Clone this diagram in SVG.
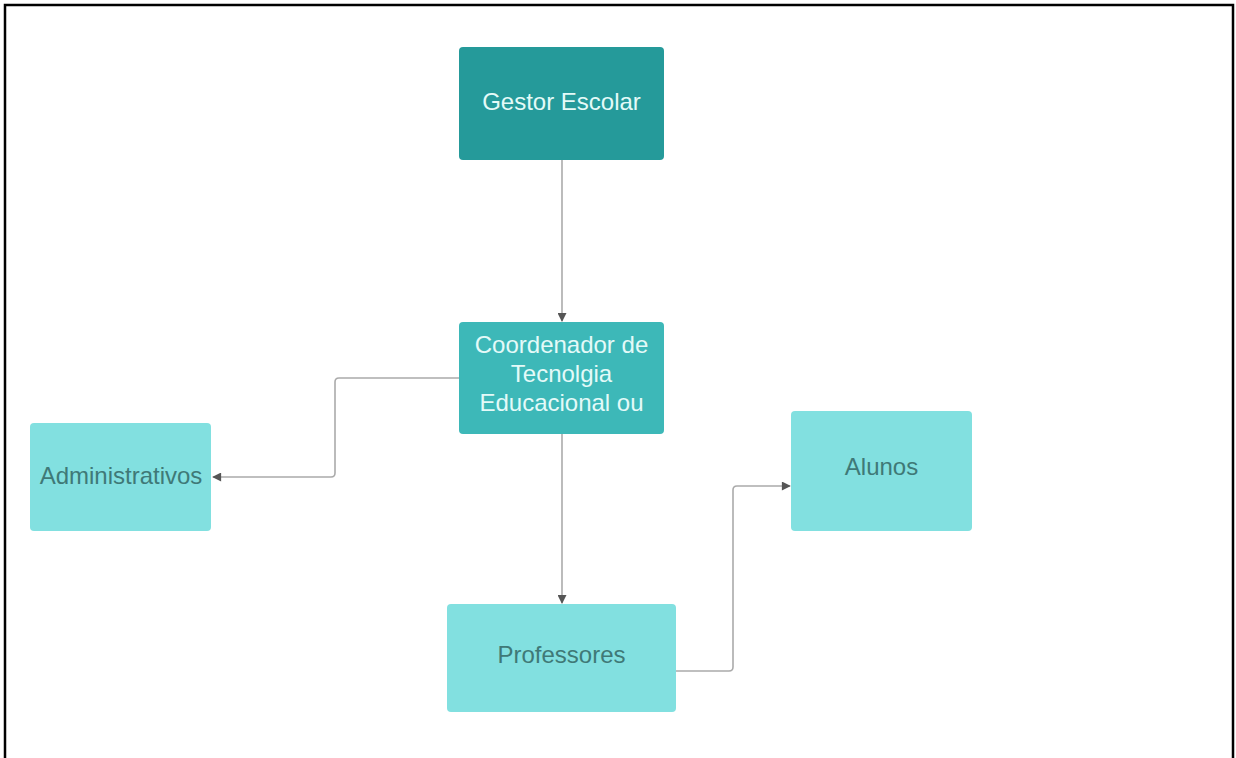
<svg xmlns="http://www.w3.org/2000/svg" width="1236" height="758" viewBox="0 0 1236 758">
<style>
  .frame{fill:none;stroke:#000;stroke-width:2.5}
  .box{stroke:none}
  .dark{fill:#259a9a}
  .mid{fill:#3db8b8}
  .light{fill:#82e0e0}
  .t{font-family:"Liberation Sans",Arial,sans-serif;font-size:24px;text-anchor:middle}
  .tl{fill:#e4faf8}
  .td{fill:#3f7977}
  .conn{fill:none;stroke:#ababab;stroke-width:1.6}
</style>
<defs>
  <marker id="arr" viewBox="0 0 10 10" refX="9" refY="5" markerWidth="10" markerHeight="9" markerUnits="userSpaceOnUse" orient="auto">
    <path d="M0,0 L10,5 L0,10 z" fill="#555"/>
  </marker>
</defs>
<rect width="1236" height="758" fill="#fff"/>
<path class="frame" d="M5,758 V5 H1233 V758"/>

<g id="connectors">
  <path class="conn" d="M562,160 V321" marker-end="url(#arr)"/>
  <path class="conn" d="M459,378 H339 Q335,378 335,382 V473 Q335,477 331,477 H213" marker-end="url(#arr)"/>
  <path class="conn" d="M562,434 V603" marker-end="url(#arr)"/>
  <path class="conn" d="M676,671 H729 Q733,671 733,667 V490 Q733,486 737,486 H790" marker-end="url(#arr)"/>
</g>

<g id="gestor">
  <rect class="box dark" x="459" y="47" width="205" height="113" rx="4"/>
  <text class="t tl" x="561.5" y="110">Gestor Escolar</text>
</g>
<g id="coordenador">
  <rect class="box mid" x="459" y="322" width="205" height="112" rx="4"/>
  <text class="t tl" x="561.5" y="353">Coordenador de</text>
  <text class="t tl" x="561.5" y="382">Tecnolgia</text>
  <text class="t tl" x="561.5" y="411">Educacional ou</text>
</g>
<g id="administrativos">
  <rect class="box light" x="30" y="423" width="181" height="108" rx="4"/>
  <text class="t td" x="121" y="484">Administrativos</text>
</g>
<g id="professores">
  <rect class="box light" x="447" y="604" width="229" height="108" rx="4"/>
  <text class="t td" x="561.5" y="663">Professores</text>
</g>
<g id="alunos">
  <rect class="box light" x="791" y="411" width="181" height="120" rx="4"/>
  <text class="t td" x="881.5" y="475">Alunos</text>
</g>
</svg>
